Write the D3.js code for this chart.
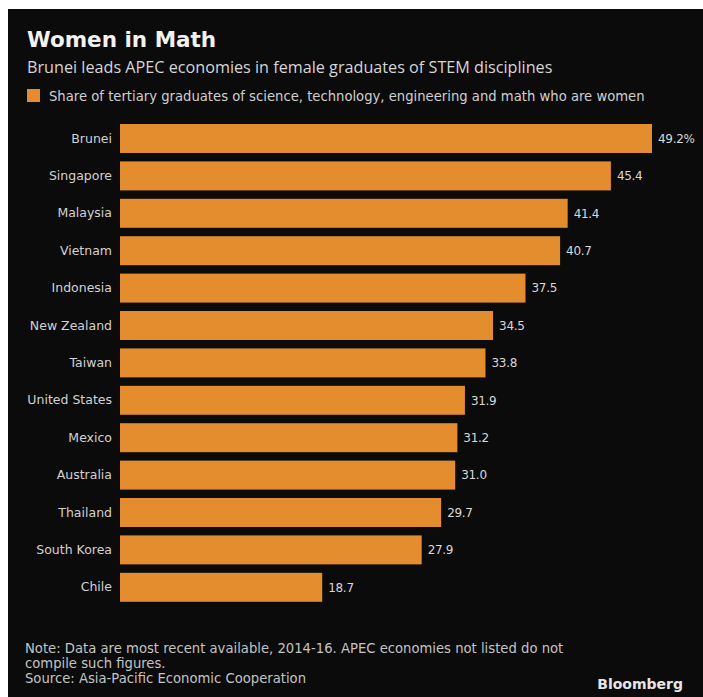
<!DOCTYPE html>
<html><head><meta charset="utf-8">
<script src="https://cdn.jsdelivr.net/npm/d3@7"></script>
<style>html,body{margin:0;padding:0;background:#fff;}svg{display:block;}</style>
</head><body>
<script>
const categories = ["Brunei","Singapore","Malaysia","Vietnam","Indonesia","New Zealand","Taiwan","United States","Mexico","Australia","Thailand","South Korea","Chile"];
const values = [49.2,45.4,41.4,40.7,37.5,34.5,33.8,31.9,31.2,31.0,29.7,27.9,18.7];
const valueLabels = ["49.2%","45.4","41.4","40.7","37.5","34.5","33.8","31.9","31.2","31.0","29.7","27.9","18.7"];
const title = "Women in Math";
const subtitle = "Brunei leads APEC economies in female graduates of STEM disciplines";
const legendText = "Share of tertiary graduates of science, technology, engineering and math who are women";
const notes = ["Note: Data are most recent available, 2014-16. APEC economies not listed do not","compile such figures.","Source: Asia-Pacific Economic Cooperation"];
const brand = "Bloomberg";

const W = 703, H = 697;
const orange = "#e38d2f";
const font = "'DejaVu Sans', sans-serif";
const svg = d3.select("body").append("svg").attr("width", W).attr("height", H);
svg.append("rect").attr("x",8).attr("y",9).attr("width",W-8).attr("height",H-9).attr("fill","#0b0b0b");

svg.append("text").attr("x",27).attr("y",47).text(title)
  .attr("font-family","'DejaVu Sans', sans-serif").attr("font-weight","bold").attr("font-size",21.5).attr("fill","#f2f2f2");
svg.append("text").attr("x",27).attr("y",73).text(subtitle)
  .attr("font-family","'Open Sans', sans-serif").attr("font-size",16.2).attr("fill","#d6d6d6");
svg.append("rect").attr("x",27).attr("y",89).attr("width",13).attr("height",13).attr("fill",orange);
svg.append("text").attr("x",49).attr("y",101).text(legendText)
  .attr("font-family",font).attr("font-size",13.2).attr("fill","#cfcfcf");

const x = d3.scaleLinear().domain([0, 49.2]).range([120, 652]);
const y = d3.scaleBand().domain(categories).range([119.8, 606]).paddingInner(0.225).paddingOuter(0.1125);

const g = svg.append("g");
g.selectAll("rect.bar").data(categories).join("rect").attr("class","bar")
  .attr("x", x(0)).attr("y", d => y(d)).attr("height", y.bandwidth())
  .attr("width", (d,i) => x(values[i]) - x(0)).attr("fill", orange);

const yAxis = d3.axisLeft(y).tickSize(0).tickPadding(8);
const ag = svg.append("g").attr("transform",`translate(${x(0)},0)`).call(yAxis);
ag.select(".domain").remove();
ag.selectAll("text").attr("font-family",font).attr("font-size",12.5).attr("fill","#d2d2d2");

g.selectAll("text.val").data(categories).join("text").attr("class","val")
  .attr("x", (d,i) => x(values[i]) + 6).attr("y", d => y(d) + y.bandwidth()/2)
  .attr("dy","0.35em").text((d,i) => valueLabels[i])
  .attr("font-family",font).attr("font-size",12).attr("letter-spacing",-0.3).attr("fill","#d8d8d8");

svg.selectAll("text.note").data(notes).join("text").attr("class","note")
  .attr("x",25).attr("y",(d,i) => 653 + i*15).text(d => d)
  .attr("font-family",font).attr("font-size",13.2).attr("fill","#c4c4c4");
svg.append("text").attr("x",683).attr("y",689).attr("text-anchor","end").text(brand)
  .attr("font-family",font).attr("font-weight","bold").attr("font-size",14).attr("fill","#e6e6e6");
</script>
</body></html>
